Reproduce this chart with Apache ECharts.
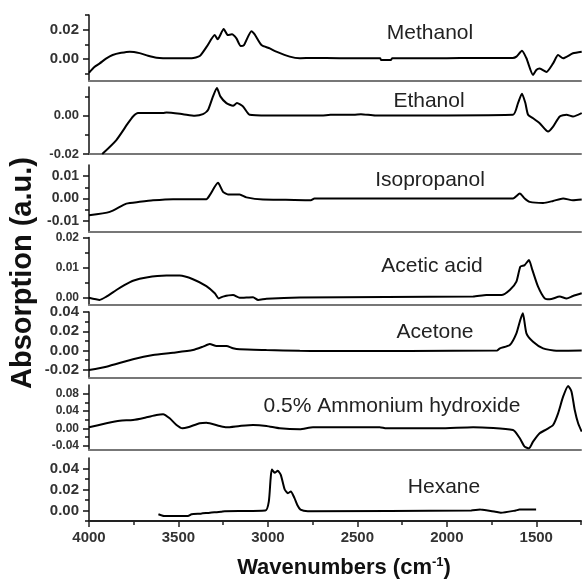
<!DOCTYPE html>
<html><head><meta charset="utf-8">
<script src="https://cdn.jsdelivr.net/npm/echarts@6/dist/echarts.min.js"></script>
<style>html,body{margin:0;padding:0;background:#fff}#c{width:582px;height:580px}</style>
</head><body><div id="c"></div>
<script>
// ---- data ----
const panelNames = ['Methanol','Ethanol','Isopropanol','Acetic acid','Acetone','0.5% Ammonium hydroxide','Hexane'];
const xTickLabels = [4000,3500,3000,2500,2000,1500];
const xMinorTicks = [3750,3250,2750,2250,1750,1250];
const yRanges = [[-0.015,0.03],[-0.02,0.015],[-0.015,0.015],[-0.0025,0.02],[-0.028,0.04],[-0.05,0.1],[-0.01,0.05]];
const yMajorTicks = [[0,0.02],[-0.02,0],[-0.01,0,0.01],[0,0.01,0.02],[-0.02,0,0.02,0.04],[-0.04,0,0.04,0.08],[0,0.02,0.04]];
const yMinorTicks = [[-0.01,0.01,0.03],[-0.01,0.01],[-0.005,0.005],[0.005,0.015],[-0.01,0.01,0.03],[-0.02,0.02,0.06],[-0.01,0.01,0.03]];

const methanol = [[4000,-0.0094],[3970,-0.0055],[3940,-0.003],[3905,0.0002],[3868,0.0027],[3820,0.0042],[3772,0.005],[3717,0.004],[3670,0.0022],[3622,0.0009],[3540,0.0005],[3426,0.0005],[3381,0.002],[3342,0.0084],[3297,0.0163],[3281,0.0134],[3247,0.0204],[3224,0.0163],[3201,0.0168],[3176,0.014],[3152,0.0088],[3134,0.0095],[3092,0.019],[3074,0.0168],[3036,0.0095],[2990,0.0072],[2953,0.005],[2878,0.0016],[2822,0.0005],[2750,0.0007],[2600,0.0005],[2372,0.0005],[2368,-0.0007],[2312,-0.0007],[2306,0.0005],[2000,0.0005],[1850,0.0007],[1632,0.0007],[1611,0.0016],[1580,0.0057],[1555,0.0005],[1518,-0.0109],[1500,-0.0075],[1481,-0.0065],[1443,-0.0088],[1406,-0.003],[1378,0.0027],[1350,0.0005],[1295,0.0039],[1246,0.005]];
const ethanol = [[3926,-0.02],[3847,-0.0127],[3782,-0.0039],[3754,-0.0004],[3726,0.0014],[3586,0.0014],[3567,0.0017],[3475,0.0008],[3409,0.0],[3363,0.0008],[3335,0.003],[3307,0.0101],[3285,0.0145],[3266,0.0101],[3232,0.0066],[3195,0.0052],[3173,0.0066],[3139,0.0048],[3102,0.0005],[3000,0.0001],[2700,0.0001],[2650,0.0005],[2520,0.0005],[2480,0.0008],[2400,0.0001],[1630,0.0005],[1602,0.0066],[1580,0.0115],[1561,0.0066],[1546,0.0005],[1518,-0.0013],[1481,-0.0039],[1434,-0.0083],[1406,-0.0057],[1369,-0.0004],[1331,0.0005],[1295,-0.0004],[1246,0.0014]];
const isopropanol = [[4000,-0.0075],[3884,-0.006],[3791,-0.0023],[3717,-0.0015],[3642,-0.0008],[3530,-0.0003],[3344,-0.0003],[3325,0.0015],[3279,0.007],[3251,0.003],[3223,0.0018],[3158,0.0018],[3120,0.0005],[3027,-0.0005],[2900,-0.0006],[2760,-0.0008],[2740,0.0],[2600,0.0],[2350,0.0],[1630,0.0],[1592,0.0022],[1565,0.0],[1537,-0.0015],[1462,-0.002],[1406,-0.0011],[1350,0.0],[1295,-0.0008],[1246,-0.0005]];
const aceticAcid = [[4000,-0.0001],[3940,-0.0008],[3903,0.0003],[3847,0.0025],[3800,0.0042],[3754,0.0056],[3679,0.0067],[3567,0.0073],[3493,0.0073],[3419,0.0061],[3344,0.0038],[3297,0.0014],[3275,-0.0003],[3251,0.0003],[3195,0.0008],[3158,-0.0001],[3083,0.0001],[3055,-0.0008],[3008,-0.0004],[2822,0.0],[1853,0.0003],[1779,0.0008],[1695,0.0008],[1648,0.0025],[1611,0.0053],[1589,0.0103],[1565,0.0108],[1541,0.0125],[1522,0.0092],[1490,0.0036],[1453,-0.0003],[1425,-0.0006],[1369,0.0003],[1331,-0.0003],[1295,0.0005],[1246,0.0014]];
const acetone = [[4000,-0.0202],[3903,-0.0168],[3754,-0.0091],[3642,-0.0047],[3530,-0.0023],[3419,0.0005],[3363,0.004],[3325,0.0068],[3288,0.0047],[3232,0.0047],[3195,0.0023],[3158,0.0012],[3008,0.0005],[2822,-0.0002],[2700,-0.0005],[1720,0.0],[1703,0.0023],[1648,0.0057],[1611,0.0179],[1589,0.032],[1575,0.0387],[1555,0.0179],[1518,0.0092],[1462,0.0023],[1388,-0.0002],[1246,0.0]];
const ammonium = [[4000,0.0024],[3903,0.0116],[3828,0.0176],[3754,0.0192],[3679,0.0254],[3623,0.0307],[3586,0.0324],[3549,0.0231],[3511,0.0077],[3478,0.0],[3447,0.0024],[3381,0.0116],[3344,0.013],[3269,0.0054],[3232,0.0024],[3158,0.0054],[3083,0.0077],[3008,0.0054],[2934,0.0],[2822,-0.0023],[2748,0.0024],[2375,0.0024],[2338,0.0],[2040,0.0],[1853,0.0024],[1630,-0.0038],[1592,-0.023],[1565,-0.0423],[1541,-0.046],[1518,-0.0308],[1481,-0.0115],[1443,-0.0023],[1406,0.0077],[1378,0.0347],[1350,0.073],[1322,0.0977],[1303,0.0846],[1285,0.0423],[1266,0.0116],[1246,-0.0077]];
const hexane = [[3612,-0.0036],[3581,-0.0052],[3447,-0.0052],[3427,-0.0036],[3375,-0.003],[3324,-0.0021],[3262,-0.0012],[3241,-0.0006],[3014,0.0],[2995,0.0085],[2985,0.03],[2978,0.039],[2962,0.036],[2945,0.0378],[2928,0.034],[2906,0.02],[2888,0.0165],[2872,0.0182],[2852,0.012],[2835,0.005],[2818,0.0009],[2777,-0.0006],[1864,0.0],[1812,0.0009],[1729,-0.0012],[1698,-0.0021],[1615,0.0],[1594,0.0009],[1501,0.0009]];
const allSeries = [methanol, ethanol, isopropanol, aceticAcid, acetone, ammonium, hexane];

// ---- layout ----
const gridPos = [[15,66],[87,67],[165,67],[237.5,67.5],[312,65.5],[385,65],[458,63]];
const yLabelSize = [15,13,14,12,15,12,15];
const namePos = [[430,33],[429,101],[430,180],[432,266],[435,332],[392,406],[444,487]];
const FONT = '"Liberation Sans", Arial, sans-serif';

const grid = [], xAxis = [], yAxis = [], series = [], graphic = [];
for (let i = 0; i < 7; i++) {
  const last = i === 6;
  grid.push({left: 89, right: 1, top: gridPos[i][0], height: gridPos[i][1]});
  xAxis.push({
    type: 'value', gridIndex: i, position: 'bottom', min: 1250, max: 4000, inverse: true,
    axisLine: {show: true, onZero: false, lineStyle: {color: last ? '#222' : '#777', width: 2}},
    axisTick: {show: last, inside: false, length: 6, lineStyle: {color: '#222', width: 1.5}, customValues: xTickLabels},
    axisLabel: {show: last, margin: 9, customValues: xTickLabels, color: '#333', fontWeight: 'bold', fontSize: 15, fontFamily: FONT,
      formatter: v => String(v)},
    splitLine: {show: false}
  });
  xAxis.push({
    type: 'value', gridIndex: i, position: 'bottom', min: 1250, max: 4000, inverse: true,
    axisLine: {show: false, onZero: false},
    axisTick: {show: last, length: 4, lineStyle: {color: '#222', width: 1.5}, customValues: xMinorTicks},
    axisLabel: {show: false}, splitLine: {show: false}
  });
  yAxis.push({
    type: 'value', gridIndex: i, position: 'left', min: yRanges[i][0], max: yRanges[i][1],
    axisLine: {show: true, onZero: false, lineStyle: {color: '#111', width: 1.5}},
    axisTick: {show: true, length: 6, lineStyle: {color: '#111', width: 1.5}, customValues: yMajorTicks[i]},
    axisLabel: {show: true, margin: 10, customValues: yMajorTicks[i], color: '#333', fontWeight: 'bold', fontSize: yLabelSize[i], fontFamily: FONT,
      formatter: v => v.toFixed(2)},
    splitLine: {show: false}
  });
  yAxis.push({
    type: 'value', gridIndex: i, position: 'left', min: yRanges[i][0], max: yRanges[i][1],
    axisLine: {show: false, onZero: false},
    axisTick: {show: true, length: 4, lineStyle: {color: '#111', width: 1.5}, customValues: yMinorTicks[i]},
    axisLabel: {show: false}, splitLine: {show: false}
  });
  series.push({
    type: 'line', name: panelNames[i], xAxisIndex: 2 * i, yAxisIndex: 2 * i,
    data: allSeries[i], showSymbol: false, clip: true, smooth: 0.2,
    lineStyle: {color: '#000', width: 2}, animation: false
  });
  graphic.push({
    type: 'text', x: namePos[i][0], y: namePos[i][1],
    style: {text: panelNames[i], font: '21px ' + FONT, fill: '#222', textAlign: 'center', textVerticalAlign: 'middle'}
  });
}
graphic.push({
  type: 'text', x: 23, y: 273, rotation: Math.PI / 2,
  style: {text: 'Absorption (a.u.)', font: 'bold 29px ' + FONT, fill: '#111', textAlign: 'center', textVerticalAlign: 'middle'}
});
graphic.push({
  type: 'text', x: 344, y: 568,
  style: {text: 'Wavenumbers (cm{sup|-1})', font: 'bold 22px ' + FONT, fill: '#111', textAlign: 'center', textVerticalAlign: 'middle',
    rich: {sup: {font: 'bold 13px ' + FONT, fill: '#111', padding: [0, 0, 12, 0]}}}
});

const chart = echarts.init(document.getElementById('c'), null, {renderer: 'canvas'});
chart.setOption({animation: false, backgroundColor: '#fff', grid, xAxis, yAxis, series, graphic});
</script>
</body></html>
